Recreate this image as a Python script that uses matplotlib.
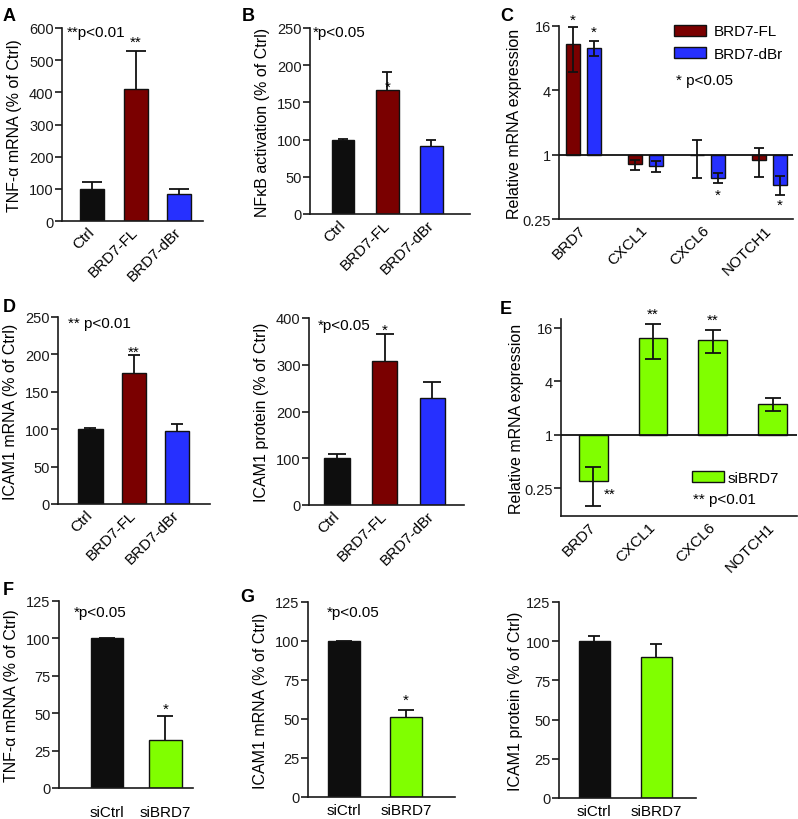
import matplotlib
matplotlib.use('Agg')
import matplotlib.pyplot as plt
import numpy as np
from matplotlib.patches import Patch

plt.rcParams['font.family'] = ['Liberation Sans', 'DejaVu Sans']

W, H = 798, 820

# ---------------- data ----------------
grp3 = ['Ctrl', 'BRD7-FL', 'BRD7-dBr']
a_vals = [100, 410, 85]
a_err = [22, 120, 15]
b_vals = [99, 167, 91]
b_err = [1.5, 24, 9]

genes = ['BRD7', 'CXCL1', 'CXCL6', 'NOTCH1']
c_fl = [10.8, 0.81, 0.99, 0.89]
c_fl_err = [4.8, 0.09, 0.38, 0.27]
c_dbr = [10.0, 0.78, 0.61, 0.525]
c_dbr_err = [1.7, 0.09, 0.07, 0.11]

d_vals = [100, 175, 97]
d_err = [2, 24, 10]
d2_vals = [100, 307, 228]
d2_err = [10, 58, 35]

e_vals = [0.30, 12.5, 11.7, 2.22]
e_err = [0.14, 5.3, 3.3, 0.36]

grp2 = ['siCtrl', 'siBRD7']
f_vals = [100, 32]
f_err = [0, 16]
g_vals = [100, 51]
g_err = [0, 5]
g2_vals = [100, 90]
g2_err = [3, 8]

BLACK = '#0e0e0e'
RED = '#7a0000'
BLUE = '#2630ff'
GREEN = '#80ff00'

fig = plt.figure(figsize=(W / 100, H / 100), dpi=100)


def mk(l, t, r, b):
    return fig.add_axes([l / W, 1 - b / H, (r - l) / W, (b - t) / H])


def style(ax, rot=True, xfs=11, xpad=6):
    for s in ['top', 'right']:
        ax.spines[s].set_visible(False)
    for s in ['left', 'bottom']:
        ax.spines[s].set_linewidth(1.2)
        ax.spines[s].set_color('#1a1a1a')
    ax.tick_params(axis='y', direction='out', length=5, width=1.2,
                   labelsize=10.5, pad=1, colors='#1a1a1a')
    ax.tick_params(axis='x', length=0, labelsize=xfs, pad=xpad)
    if rot:
        for lab in ax.get_xticklabels():
            lab.set_rotation(45)
            lab.set_ha('right')
            lab.set_va('center')
            lab.set_rotation_mode('anchor')


def bars_up(ax, cats, vals, errs, colors, width, capsize, xlim, ylim):
    x = np.arange(len(cats))
    _, caps, _ = ax.errorbar(x, vals, yerr=[np.zeros(len(vals)), errs],
                             fmt='none', ecolor='#111111', elinewidth=1.3,
                             capsize=capsize, capthick=1.3, zorder=1)
    caps[0].set_visible(False)
    ax.bar(x, vals, width=width, color=colors, edgecolor='#111111',
           linewidth=1.0, zorder=2)
    ax.set_xlim(*xlim)
    ax.set_ylim(*ylim)
    ax.set_xticks(x)
    ax.set_xticklabels(cats)
    return x


def ptext(ax, s, fx, fy, fs=11):
    ax.text(fx, fy, s, transform=ax.transAxes, fontsize=fs,
            ha='left', va='center')


def star(ax, x, y, s, fs=11, ha='center'):
    ax.text(x, y, s, fontsize=fs, ha=ha, va='center')


YL = 11.5

# ---------------- A ----------------
axA = mk(62, 29, 203, 222)
bars_up(axA, grp3, a_vals, a_err, [BLACK, RED, BLUE], 0.55, 7,
        (-0.70, 2.55), (0, 600))
axA.set_yticks([0, 100, 200, 300, 400, 500, 600])
axA.set_ylabel('TNF-α mRNA (% of Ctrl)', fontsize=YL, labelpad=5)
style(axA)
ptext(axA, '**p<0.01', 0.035, 0.98)
star(axA, 1, 556, '**')

# ---------------- B ----------------
axB = mk(310, 29, 470, 215)
bars_up(axB, grp3, b_vals, b_err, [BLACK, RED, BLUE], 0.51, 3.4,
        (-0.745, 2.87), (0, 250))
axB.set_yticks([0, 50, 100, 150, 200, 250])
axB.set_ylabel('NFκB activation (% of Ctrl)', fontsize=YL, labelpad=5)
style(axB)
ptext(axB, '*p<0.05', 0.02, 0.98)
star(axB, 1, 171, '*')

# ---------------- C ----------------
axC = mk(559, 27, 793, 220)
axC.set_yscale('log', base=2)
xc = np.arange(len(genes))
off, wc = 0.17, 0.23
axC.bar(xc - off, np.array(c_fl) - 1, bottom=1, width=wc, color=RED,
        edgecolor='#111111', linewidth=1.0, zorder=2)
axC.bar(xc + off, np.array(c_dbr) - 1, bottom=1, width=wc, color=BLUE,
        edgecolor='#111111', linewidth=1.0, zorder=2)
axC.errorbar(xc - off, c_fl, yerr=c_fl_err, fmt='none', ecolor='#111111',
             elinewidth=1.3, capsize=3.6, capthick=1.3, zorder=3)
axC.errorbar(xc + off, c_dbr, yerr=c_dbr_err, fmt='none', ecolor='#111111',
             elinewidth=1.3, capsize=3.6, capthick=1.3, zorder=3)
axC.axhline(1, color='#111111', linewidth=1.3, zorder=4)
axC.set_ylim(0.25, 16)
axC.set_xlim(-0.39, 3.38)
axC.set_yticks([0.25, 1, 4, 16])
axC.set_yticklabels(['0.25', '1', '4', '16'])
axC.yaxis.set_minor_locator(matplotlib.ticker.NullLocator())
axC.set_xticks(xc)
axC.set_xticklabels(genes)
axC.set_ylabel('Relative mRNA expression', fontsize=YL, labelpad=0)
style(axC)
axC.legend([Patch(facecolor=RED, edgecolor='#111111'),
            Patch(facecolor=BLUE, edgecolor='#111111')],
           ['BRD7-FL', 'BRD7-dBr'], loc='upper left',
           bbox_to_anchor=(0.49, 1.008), frameon=False, fontsize=11,
           handlelength=2.1, handleheight=0.75, handletextpad=0.5,
           borderpad=0, borderaxespad=0, labelspacing=0.55)
ptext(axC, '* p<0.05', 0.5, 0.72)
star(axC, 0 - off, 18.1, '*')
star(axC, 0 + off, 14.2, '*')
star(axC, 2 + off, 0.418, '*')
star(axC, 3 + off, 0.34, '*')

# ---------------- D ----------------
axD = mk(58, 318, 210, 505)
bars_up(axD, grp3, d_vals, d_err, [BLACK, RED, BLUE], 0.56, 4.3,
        (-0.75, 2.76), (0, 250))
axD.set_yticks([0, 50, 100, 150, 200, 250])
axD.set_ylabel('ICAM1 mRNA (% of Ctrl)', fontsize=YL, labelpad=5)
style(axD)
ptext(axD, '** p<0.01', 0.066, 0.966)
star(axD, 1, 203, '**')

# ---------------- D2 ----------------
axD2 = mk(309, 319, 464, 506)
bars_up(axD2, grp3, d2_vals, d2_err, [BLACK, RED, BLUE], 0.53, 6.5,
        (-0.59, 2.67), (0, 400))
axD2.set_yticks([0, 100, 200, 300, 400])
axD2.set_ylabel('ICAM1 protein (% of Ctrl)', fontsize=YL, labelpad=5)
style(axD2)
ptext(axD2, '*p<0.05', 0.054, 0.963)
star(axD2, 1, 375, '*')

# ---------------- E ----------------
axE = mk(561, 320, 797, 517)
axE.set_yscale('log', base=2)
xe = np.arange(len(genes))
axE.bar(xe, np.array(e_vals) - 1, bottom=1, width=0.48, color=GREEN,
        edgecolor='#111111', linewidth=1.0, zorder=2)
axE.errorbar(xe, e_vals, yerr=e_err, fmt='none', ecolor='#111111',
             elinewidth=1.3, capsize=5.8, capthick=1.3, zorder=3)
axE.axhline(1, color='#111111', linewidth=1.3, zorder=4)
axE.set_ylim(0.122, 20.2)
axE.set_xlim(-0.54, 3.41)
axE.set_yticks([0.25, 1, 4, 16])
axE.set_yticklabels(['0.25', '1', '4', '16'])
axE.yaxis.set_minor_locator(matplotlib.ticker.NullLocator())
axE.set_xticks(xe)
axE.set_xticklabels(genes)
axE.set_ylabel('Relative mRNA expression', fontsize=YL, labelpad=0)
style(axE)
axE.legend([Patch(facecolor=GREEN, edgecolor='#111111')], ['siBRD7'],
           loc='upper left', bbox_to_anchor=(0.556, 0.23), frameon=False,
           fontsize=11, handlelength=2.1, handleheight=0.75,
           handletextpad=0.2, borderpad=0, borderaxespad=0)
ptext(axE, '** p<0.01', 0.56, 0.085)
star(axE, 1, 23.4, '**')
star(axE, 2, 19.6, '**')
star(axE, 0.27, 0.216, '**')

# ---------------- F ----------------
axF = mk(59, 602, 193, 789)
bars_up(axF, grp2, f_vals, f_err, [BLACK, GREEN], 0.56, 5.8,
        (-0.82, 1.475), (0, 125))
axF.set_yticks([0, 25, 50, 75, 100, 125])
axF.set_ylabel('TNF-α mRNA (% of Ctrl)', fontsize=YL, labelpad=5)
style(axF, rot=False, xfs=11, xpad=12)
ptext(axF, '*p<0.05', 0.107, 0.94)
star(axF, 1, 53, '*')

# ---------------- G1 ----------------
axG = mk(308, 603, 455, 798)
bars_up(axG, grp2, g_vals, g_err, [BLACK, GREEN], 0.51, 5.8,
        (-0.58, 1.79), (0, 125))
axG.set_yticks([0, 25, 50, 75, 100, 125])
axG.set_ylabel('ICAM1 mRNA (% of Ctrl)', fontsize=YL, labelpad=5)
style(axG, rot=False, xfs=11, xpad=4.5)
ptext(axG, '*p<0.05', 0.127, 0.947)
star(axG, 1, 62, '*')

# ---------------- G2 ----------------
axG2 = mk(559, 603, 696, 799)
bars_up(axG2, grp2, g2_vals, g2_err, [BLACK, GREEN], 0.51, 4.3,
        (-0.57, 1.64), (0, 125))
axG2.set_yticks([0, 25, 50, 75, 100, 125])
axG2.set_ylabel('ICAM1 protein (% of Ctrl)', fontsize=YL, labelpad=2)
style(axG2, rot=False, xfs=11, xpad=4)

# ---------------- panel letters ----------------
for s, x, y in [('A', 3, 8), ('B', 242, 8), ('C', 500, 8), ('D', 3, 299),
                ('E', 500, 301), ('F', 3, 582), ('G', 240, 589)]:
    fig.text(x / W, 1 - y / H, s, fontsize=13, fontweight='bold',
             ha='left', va='top')

fig.savefig('out.png', dpi=100)
